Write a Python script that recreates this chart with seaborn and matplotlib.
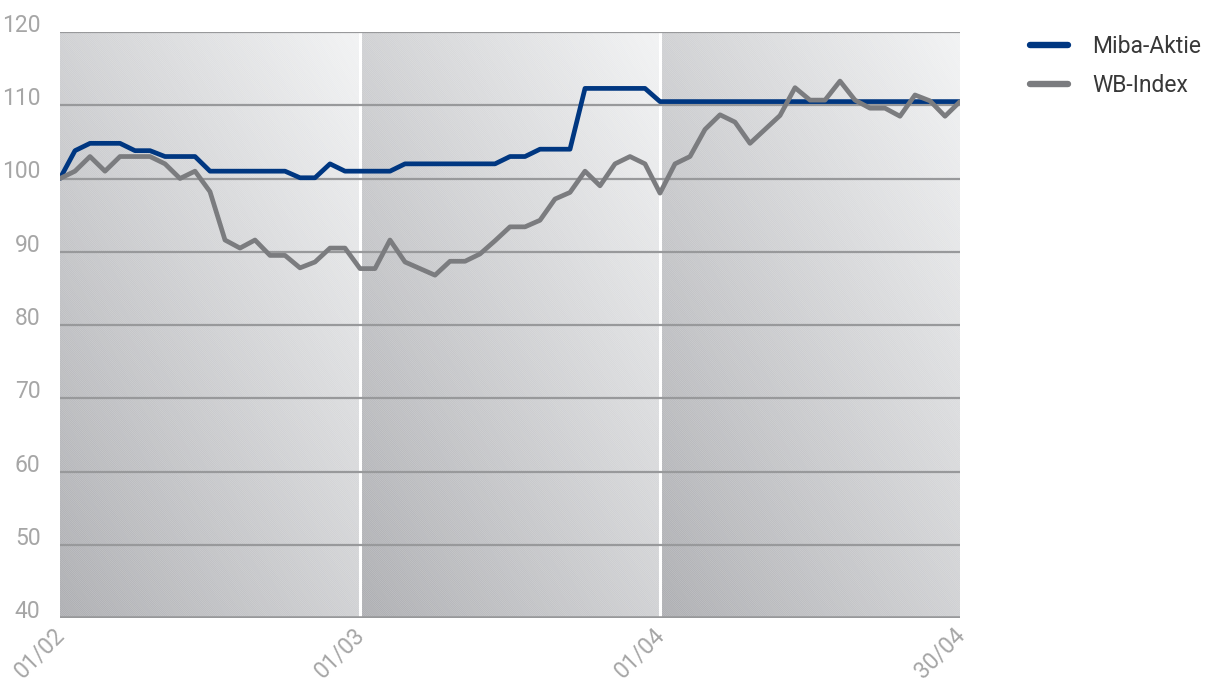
"""
Miba-Aktie vs. WB-Index, Feb-Apr, indexed to 100.
"""

import matplotlib
matplotlib.use("Agg")
import matplotlib.pyplot as plt
import numpy as np
import pandas as pd
import seaborn as sns
from matplotlib.colors import LinearSegmentedColormap
from matplotlib.patches import Rectangle
from matplotlib.transforms import ScaledTranslation

# values, one per trading day
miba_aktie = [100, 103.8, 104.8, 104.8, 104.8, 103.8, 103.8, 103, 103, 103,
              101, 101, 101, 101, 101, 101, 100.1, 100.1, 102, 101,
              101, 101, 101, 102, 102, 102, 102, 102, 102, 102,
              103, 103, 104, 104, 104, 112.3, 112.3, 112.3, 112.3, 112.3,
              110.5, 110.5, 110.5, 110.5, 110.5, 110.5, 110.5, 110.5, 110.5, 110.5,
              110.5, 110.5, 110.5, 110.5, 110.5, 110.5, 110.5, 110.5, 110.5, 110.5,
              110.5]
wb_index = [100, 101, 103, 101, 103, 103, 103, 102, 100, 101,
            98.2, 91.6, 90.5, 91.6, 89.5, 89.5, 87.8, 88.6, 90.5, 90.5,
            87.7, 87.7, 91.6, 88.6, 87.7, 86.8, 88.7, 88.7, 89.7, 91.5,
            93.4, 93.4, 94.3, 97.2, 98.1, 101, 99, 102, 103, 102,
            98, 102, 103, 106.7, 108.7, 107.7, 104.8, 106.7, 108.6, 112.4,
            110.7, 110.7, 113.3, 110.7, 109.6, 109.6, 108.5, 111.4, 110.6, 108.5,
            110.5]

series_names = ['Miba-Aktie', 'WB-Index']
series_colors = {'Miba-Aktie': '#003781', 'WB-Index': '#7b7c7f'}

month_starts = [0, 20, 40, 60]
x_labels = ['01/02', '01/03', '01/04', '30/04']
y_ticks = [40, 50, 60, 70, 80, 90, 100, 110, 120]

df = pd.DataFrame({
    'day': list(range(len(miba_aktie))) + list(range(len(wb_index))),
    'value': miba_aktie + wb_index,
    'series': [series_names[0]] * len(miba_aktie) + [series_names[1]] * len(wb_index),
})

sns.set_theme(style="white")
plt.rcParams['font.family'] = ['Roboto', 'DejaVu Sans']
plt.rcParams['hatch.linewidth'] = 0.6

fig = plt.figure(figsize=(12.11, 6.82), dpi=100)
ax = fig.add_axes([60 / 1211, 1 - 618 / 682, 900 / 1211, 586 / 682])

ymin, ymax = y_ticks[0], y_ticks[-1]

# gradient panels, one per month, dark bottom-left to light top-right
cmap = LinearSegmentedColormap.from_list('panel', ['#a8a9ad', '#f1f2f3'])
u, v = np.meshgrid(np.linspace(0, 1, 120), np.linspace(0, 1, 120))
shade = (u + v) / 2
for x0, x1 in zip(month_starts[:-1], month_starts[1:]):
    ax.imshow(shade, cmap=cmap, origin='lower', aspect='auto',
              extent=(x0, x1, ymin, ymax), interpolation='bilinear', zorder=0)
    ax.add_patch(Rectangle((x0, ymin), x1 - x0, ymax - ymin, facecolor='none',
                           edgecolor=(1, 1, 1, 0.22), linewidth=0,
                           hatch='\\' * 16, zorder=0.5))

# white month separators
for x in month_starts[1:-1]:
    ax.axvline(x, color='white', lw=2.2, zorder=0.8)

# horizontal grid
ax.hlines(y_ticks[1:], month_starts[0], month_starts[-1], color='#98999b', lw=1.6, zorder=1)
ax.axhline(ymin, color='#98999b', lw=2.6, zorder=1)

sns.lineplot(data=df, x='day', y='value', hue='series', palette=series_colors,
             linewidth=3.4, ax=ax, zorder=3)

ax.set_xlim(month_starts[0], month_starts[-1])
ax.set_ylim(ymin, ymax)
ax.set_xlabel('')
ax.set_ylabel('')
for side in ['top', 'right', 'left', 'bottom']:
    ax.spines[side].set_visible(False)

ax.set_yticks(y_ticks)
ax.set_yticklabels([str(t) for t in y_ticks], fontsize=16.5, color='#a6a6a6',
                   va='baseline')
ax.tick_params(axis='y', length=0, pad=14)

ax.set_xticks(month_starts)
ax.set_xticklabels(x_labels, fontsize=16.5, color='#a6a6a6',
                   rotation=45, ha='right', va='top', rotation_mode='anchor')
ax.tick_params(axis='x', length=0, pad=7)
shift = ScaledTranslation(-0.07, 0.04, fig.dpi_scale_trans)
for lab in ax.get_xticklabels():
    lab.set_transform(lab.get_transform() + shift)

handles, labels = ax.get_legend_handles_labels()
leg = ax.legend(handles, labels, loc='upper left',
                bbox_to_anchor=(1030 / 1211, 1 - 35 / 682),
                bbox_transform=fig.transFigure, frameon=False, fontsize=16.5,
                handlelength=1.65, handletextpad=1.05, labelspacing=0.72,
                borderpad=0, borderaxespad=0)
for line in leg.get_lines():
    line.set_linewidth(4.6)
for text in leg.get_texts():
    text.set_color('#383838')

plt.savefig('out.png', dpi=100)
plt.close()
